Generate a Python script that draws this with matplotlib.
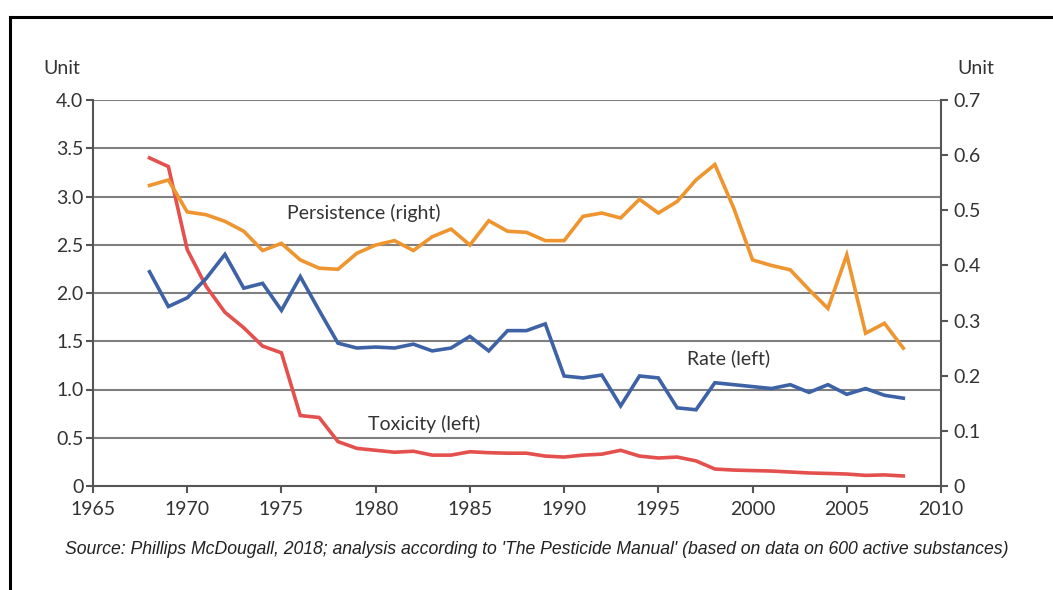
import matplotlib
matplotlib.use("Agg")
import matplotlib.pyplot as plt
from matplotlib.lines import Line2D

plt.rcParams['font.family'] = ['Lato', 'DejaVu Sans']

years = list(range(1968, 2009))

# Toxicity (left axis)
toxicity = [3.40, 3.31, 2.45, 2.07, 1.80, 1.64, 1.45, 1.38, 0.73, 0.71,
            0.46, 0.39, 0.37, 0.35, 0.36, 0.32, 0.32, 0.355, 0.345, 0.34,
            0.34, 0.31, 0.30, 0.32, 0.33, 0.37, 0.31, 0.29, 0.30, 0.26,
            0.176, 0.165, 0.16, 0.155, 0.145, 0.135, 0.13, 0.124, 0.11, 0.115,
            0.104]

# Rate (left axis)
rate = [2.22, 1.86, 1.95, 2.15, 2.40, 2.05, 2.10, 1.82, 2.17, 1.82,
        1.48, 1.43, 1.44, 1.43, 1.47, 1.40, 1.43, 1.55, 1.40, 1.61,
        1.61, 1.68, 1.14, 1.12, 1.15, 0.83, 1.14, 1.12, 0.81, 0.79,
        1.07, 1.05, 1.03, 1.01, 1.05, 0.97, 1.05, 0.95, 1.01, 0.94,
        0.91]

# Persistence (right axis)
persistence = [0.545, 0.555, 0.497, 0.492, 0.480, 0.462, 0.427, 0.440, 0.410, 0.395,
               0.393, 0.422, 0.437, 0.445, 0.427, 0.452, 0.466, 0.437, 0.481, 0.462,
               0.460, 0.445, 0.445, 0.489, 0.495, 0.486, 0.520, 0.495, 0.516, 0.555,
               0.583, 0.504, 0.410, 0.400, 0.392, 0.356, 0.322, 0.419, 0.277, 0.295,
               0.250]

left_ticks = [0, 0.5, 1.0, 1.5, 2.0, 2.5, 3.0, 3.5, 4.0]
left_labels = ['0', '0.5', '1.0', '1.5', '2.0', '2.5', '3.0', '3.5', '4.0']
right_ticks = [0, 0.1, 0.2, 0.3, 0.4, 0.5, 0.6, 0.7]
right_labels = ['0', '0.1', '0.2', '0.3', '0.4', '0.5', '0.6', '0.7']
x_ticks = list(range(1965, 2011, 5))

red = '#e4504d'
blue = '#3e62a6'
orange = '#ef952f'
axis_col = '#555555'
grid_col = '#808080'
txt_col = '#333333'

fig = plt.figure(figsize=(10.53, 5.90), dpi=100)
ax = fig.add_axes([93 / 1053, 1 - 486 / 590, 848 / 1053, 386 / 590])
ax2 = ax.twinx()

ax.set_xlim(1965, 2010)
ax.set_ylim(0, 4.0)
ax2.set_ylim(0, 0.7)

for y in left_ticks[1:]:
    ax.axhline(y, color=grid_col, lw=1.5, zorder=1)

ax.plot(years, toxicity, color=red, lw=2.6, zorder=3, solid_joinstyle='miter')
ax.plot(years, rate, color=blue, lw=2.6, zorder=3, solid_joinstyle='miter')
ax2.plot(years, persistence, color=orange, lw=2.6, zorder=3, solid_joinstyle='miter')

ax.set_xticks(x_ticks)
ax.set_xticklabels([str(x) for x in x_ticks])
ax.set_yticks(left_ticks)
ax.set_yticklabels(left_labels)
ax2.set_yticks(right_ticks)
ax2.set_yticklabels(right_labels)

for a in (ax, ax2):
    a.spines['top'].set_visible(False)
    for s in ('left', 'right', 'bottom'):
        a.spines[s].set_color(axis_col)
        a.spines[s].set_linewidth(1.5)
    a.tick_params(colors=axis_col, labelcolor=txt_col, labelsize=14, width=1.5, length=5)
ax.tick_params(axis='x', pad=6)
ax.tick_params(axis='y', pad=2)
ax2.tick_params(axis='y', pad=4)
ax.spines['right'].set_visible(False)
ax2.spines['left'].set_visible(False)
ax2.spines['bottom'].set_visible(False)

ax.text(1975.3, 2.83, 'Persistence (right)', fontsize=14, color=txt_col, va='center')
ax.text(1996.5, 1.32, 'Rate (left)', fontsize=14, color=txt_col, va='center')
ax.text(1979.6, 0.64, 'Toxicity (left)', fontsize=14, color=txt_col, va='center')

fig.text(80 / 1053, 1 - 68 / 590, 'Unit', fontsize=14, color=txt_col, ha='right', va='center')
fig.text(957 / 1053, 1 - 68 / 590, 'Unit', fontsize=14, color=txt_col, ha='left', va='center')

fig.text(537 / 1053, 1 - 550 / 590,
         "Source: Phillips McDougall, 2018; analysis according to 'The Pesticide Manual' "
         "(based on data on 600 active substances)",
         fontsize=12.7, style='italic', family=['Liberation Sans', 'DejaVu Sans'],
         color='#222222', ha='center', va='center')

# frame lines
fig.add_artist(Line2D([10 / 1053, 10 / 1053], [0, 1 - 17 / 590], color='black', lw=2.2))
fig.add_artist(Line2D([10 / 1053, 1], [1 - 17 / 590, 1 - 17 / 590], color='black', lw=2.2))

fig.savefig('out.png', dpi=100)
